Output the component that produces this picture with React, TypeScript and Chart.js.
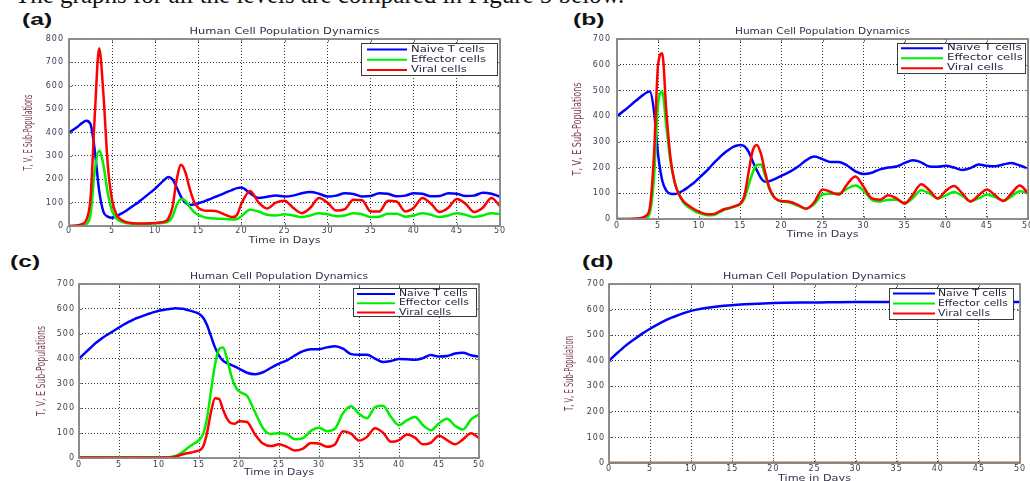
import React, { useEffect, useRef } from 'react';
import { Chart, registerables } from 'chart.js';

Chart.register(...registerables);

// ---------- data ----------
const DAYS = [
  0, 0.5, 1, 1.5, 2, 2.5, 3, 3.5, 4, 4.5,
  5, 5.5, 6, 6.5, 7, 7.5, 8, 8.5, 9, 9.5,
  10, 10.5, 11, 11.5, 12, 12.5, 13, 13.5, 14, 14.5,
  15, 15.5, 16, 16.5, 17, 17.5, 18, 18.5, 19, 19.5,
  20,
  21, 22, 23, 24, 25, 26, 27, 28, 29, 30,
  31, 32, 33, 34, 35, 36, 37, 38, 39, 40,
  41, 42, 43, 44, 45, 46, 47, 48, 49, 50,
];

const A_NAIVE = [
  400, 412, 425, 440, 450, 435, 320, 150, 60, 40,
  35, 42, 52, 62, 75, 88, 100, 115, 130, 145,
  160, 178, 195, 210, 200, 165, 125, 100, 90, 92,
  97, 103, 110, 117, 125, 132, 140, 148, 155, 162,
  165,
  140, 120, 125, 130, 126, 130, 140, 145, 138, 126,
  130, 140, 137, 126, 128, 140, 138, 127, 130, 140,
  138, 127, 128, 140, 138, 128, 130, 142, 138, 125,
];
const A_EFFECTOR = [
  0, 0, 1, 3, 8, 50, 240, 322, 260, 140,
  65, 32, 20, 14, 11, 10, 10, 10, 10, 10,
  11, 12, 14, 18, 40, 90, 115, 108, 82, 60,
  48, 40, 35, 33, 32, 31, 30, 29, 28, 30,
  42,
  70, 62, 48, 45, 50, 45, 38, 45, 55, 50,
  42, 45, 55, 50, 38, 40, 52, 52, 40, 45,
  55, 48, 38, 45, 55, 48, 38, 45, 55, 50,
];
const A_VIRAL = [
  0, 1, 3, 8, 25, 120, 480, 760, 560, 260,
  110, 50, 28, 18, 14, 12, 11, 11, 11, 12,
  13, 15, 18, 30, 80, 200, 262, 230, 160, 105,
  78, 68, 65, 65, 64, 58, 50, 42, 38, 48,
  95,
  150, 100, 75, 100, 108, 78, 55, 78, 120, 100,
  66, 72, 112, 110, 62, 62, 108, 105, 62, 78,
  120, 95, 60, 78, 115, 95, 60, 78, 120, 85,
];

const B_NAIVE = [
  400, 412, 425, 438, 452, 465, 478, 490, 496, 420,
  250, 150, 110, 98, 97, 102, 110, 120, 132, 145,
  160, 175, 190, 208, 225, 240, 255, 267, 278, 285,
  288, 283, 262, 225, 190, 160, 145, 147, 153, 160,
  168,
  183, 203, 228, 243, 233, 222, 222, 208, 185, 175,
  180, 193, 200, 204, 218, 228, 220, 204, 203, 207,
  200, 191, 198, 212, 207, 205, 212, 218, 208, 196,
];
const B_EFFECTOR = [
  0, 0, 0, 0, 0, 1, 2, 5, 25, 160,
  450, 495, 360, 225, 145, 98, 68, 50, 40, 30,
  23, 18, 15, 15, 18, 27, 35, 40, 45, 50,
  58, 80, 130, 180, 210, 212, 170, 118, 88, 74,
  68,
  64, 52, 40, 58, 95, 98, 100, 118, 130, 110,
  75, 68, 75, 75, 62, 82, 112, 100, 80, 92,
  105, 90, 70, 80, 95, 85, 72, 88, 108, 100,
];
const B_VIRAL = [
  0, 0, 0, 0, 1, 2, 5, 12, 45, 250,
  600, 645, 420, 240, 145, 98, 72, 57, 46, 36,
  28, 22, 18, 18, 22, 30, 38, 42, 46, 52,
  60, 90, 180, 265, 288, 255, 185, 125, 90, 75,
  70,
  67, 55, 40, 65, 115, 105, 95, 135, 165, 125,
  80, 75, 92, 80, 60, 95, 135, 112, 80, 110,
  128, 100, 68, 92, 115, 92, 70, 100, 130, 100,
];

const C_NAIVE = [
  400, 415, 430, 445, 460, 473, 485, 495, 505, 515,
  525, 535, 544, 552, 560, 566, 572, 578, 583, 588,
  592, 595, 598, 600, 602, 601, 600, 596, 592, 587,
  580, 565, 535, 490, 445, 412, 392, 382, 375, 368,
  360,
  343, 337, 345, 363, 380, 393, 413, 430, 438, 438,
  445, 450, 440, 418, 415, 415, 400, 386, 390, 398,
  397, 395, 402, 414, 408, 410, 420, 423, 413, 408,
];
const C_EFFECTOR = [
  3, 3, 3, 3, 3, 3, 3, 3, 3, 3,
  3, 3, 3, 3, 3, 3, 3, 3, 3, 3,
  3, 3, 3, 4, 8, 15, 25, 38, 50, 60,
  72, 95, 160, 270, 375, 438, 445, 400, 335, 290,
  268,
  250, 185, 120, 97, 100, 95, 75, 80, 110, 122,
  108, 118, 180, 208, 178, 160, 205, 210, 165, 132,
  152, 165, 132, 112, 140, 158, 130, 115, 155, 175,
];
const C_VIRAL = [
  2, 2, 2, 2, 2, 2, 2, 2, 2, 2,
  2, 2, 2, 2, 2, 2, 2, 2, 2, 2,
  2, 2, 2, 3, 5, 10, 15, 19, 22, 26,
  30, 45, 100, 185, 240, 238, 195, 158, 140, 138,
  148,
  145, 95, 58, 48, 55, 45, 30, 38, 60, 58,
  45, 55, 108, 98, 70, 85, 120, 102, 65, 72,
  95, 82, 55, 62, 90, 72, 55, 75, 100, 80,
];

const DAYS_D = [0, 1, 2, 3, 4, 5, 6, 7, 8, 9, 10, 12, 14, 16, 18, 20, 25, 30, 35, 40, 45, 50];
const D_NAIVE = [400, 430, 458, 482, 505, 525, 543, 560, 573, 585, 595, 607, 615, 620, 623, 626, 628, 630, 630, 630, 630, 630];
const D_EFFECTOR = [0, 0, 0, 0, 0, 0, 0, 0, 0, 0, 0, 0, 0, 0, 0, 0, 0, 0, 0, 0, 0, 0];
const D_VIRAL = [0, 0, 0, 0, 0, 0, 0, 0, 0, 0, 0, 0, 0, 0, 0, 0, 0, 0, 0, 0, 0, 0];

const SERIES_LABELS = ['Naive T cells', 'Effector cells', 'Viral cells'];
const SERIES_COLORS = ['#0000ff', '#00ee00', '#ff0000'];
const CHART_TITLE = 'Human Cell Population Dynamics';
const X_TITLE = 'Time in Days';
const X_TICK_STEP = 5;
const Y_TICK_STEP = 100;
const INTRO = 'The graphs for all the levels are compared in Figure 5 below.';

// ---------- layout ----------
type Rect = { l: number; t: number; r: number; b: number };
interface Legend { l: number; t: number; w: number; h: number; lineX: number; lineLen: number; textX: number; textW: number; rowY: number; rowGap: number }
interface Panel {
  tag: string; tagLeft: number; tagTop: number;
  plot: Rect; yMax: number;
  yTitle: string; yTitleX: number; yTitleLen: number;
  titleY: number; titleWidth: number;
  xTickPad: number; yTickPad: number;
  xTitleY: number; xTitleWidth: number;
  legend: Legend;
  days: number[]; naive: number[]; effector: number[]; viral: number[];
}

const ML = 60, MT = 20, MR = 12, MB = 26;

const PANELS: Panel[] = [
  {
    tag: '(a)', tagLeft: 22, tagTop: 11,
    plot: { l: 69, t: 39, r: 500, b: 226 }, yMax: 800,
    yTitle: 'T, V, E Sub-Populations', yTitleX: 29, yTitleLen: 76,
    titleY: 32, titleWidth: 190, xTickPad: 0, yTickPad: 5,
    xTitleY: 241, xTitleWidth: 72,
    legend: { l: 361, t: 43, w: 136, h: 32, lineX: 367, lineLen: 40, textX: 411, textW: 75, rowY: 49.5, rowGap: 10.3 },
    days: DAYS, naive: A_NAIVE, effector: A_EFFECTOR, viral: A_VIRAL,
  },
  {
    tag: '(b)', tagLeft: 573, tagTop: 11,
    plot: { l: 617, t: 39, r: 1028, b: 219 }, yMax: 700,
    yTitle: 'T, V, E Sub-Populations', yTitleX: 578, yTitleLen: 93,
    titleY: 32, titleWidth: 175, xTickPad: 2, yTickPad: 6,
    xTitleY: 235, xTitleWidth: 72,
    legend: { l: 897, t: 43, w: 128, h: 30, lineX: 901, lineLen: 42, textX: 947, textW: 76, rowY: 48.3, rowGap: 10 },
    days: DAYS, naive: B_NAIVE, effector: B_EFFECTOR, viral: B_VIRAL,
  },
  {
    tag: '(c)', tagLeft: 10, tagTop: 253,
    plot: { l: 79, t: 284, r: 479, b: 458 }, yMax: 700,
    yTitle: 'T, V, E Sub-Populations', yTitleX: 42, yTitleLen: 90,
    titleY: 277, titleWidth: 178, xTickPad: 2, yTickPad: 4,
    xTitleY: 473, xTitleWidth: 70,
    legend: { l: 353, t: 288, w: 123, h: 28, lineX: 357, lineLen: 38, textX: 399, textW: 70, rowY: 294, rowGap: 9.3 },
    days: DAYS, naive: C_NAIVE, effector: C_EFFECTOR, viral: C_VIRAL,
  },
  {
    tag: '(d)', tagLeft: 582, tagTop: 253,
    plot: { l: 609, t: 284, r: 1020, b: 463 }, yMax: 700,
    yTitle: 'T, V, E Sub-Population', yTitleX: 570, yTitleLen: 75,
    titleY: 277, titleWidth: 183, xTickPad: 1, yTickPad: 4,
    xTitleY: 479, xTitleWidth: 73,
    legend: { l: 889, t: 288, w: 124, h: 31, lineX: 893, lineLen: 42, textX: 938, textW: 70, rowY: 293.5, rowGap: 10 },
    days: DAYS_D, naive: D_NAIVE, effector: D_EFFECTOR, viral: D_VIRAL,
  },
];

const FONT = '"DejaVu Sans", "Liberation Sans", sans-serif';

function fitText(ctx: CanvasRenderingContext2D, text: string, cx: number, cy: number, width: number, size: number, color: string, rotate = false) {
  ctx.save();
  ctx.letterSpacing = '0px';
  ctx.font = `${size}px ${FONT}`;
  ctx.fillStyle = color;
  ctx.textAlign = 'center';
  ctx.textBaseline = 'middle';
  const w = ctx.measureText(text).width || 1;
  ctx.translate(cx, cy);
  if (rotate) ctx.rotate(-Math.PI / 2);
  ctx.scale(width / w, 1);
  ctx.fillText(text, 0, 0);
  ctx.restore();
}

function makeDecor(p: Panel, cl: number, ct: number) {
  return {
    id: 'decor' + p.tag.replace(/[()]/g, ''),
    beforeDraw(chart: any) {
      chart.ctx.letterSpacing = '1px';
    },
    afterDraw(chart: any) {
      const ctx: CanvasRenderingContext2D = chart.ctx;
      const ca = chart.chartArea;
      const xs = chart.scales.x;
      const ys = chart.scales.y;
      ctx.save();
      ctx.letterSpacing = '0px';
      ctx.setLineDash([]);
      // inner tick marks
      ctx.strokeStyle = '#7a7a7a';
      ctx.lineWidth = 1;
      ctx.beginPath();
      xs.ticks.forEach((t: any) => {
        const x = Math.round(xs.getPixelForValue(t.value)) + 0.5;
        ctx.moveTo(x, ca.bottom); ctx.lineTo(x, ca.bottom - 3);
        ctx.moveTo(x, ca.top); ctx.lineTo(x, ca.top + 3);
      });
      ys.ticks.forEach((t: any) => {
        const y = Math.round(ys.getPixelForValue(t.value)) + 0.5;
        ctx.moveTo(ca.left, y); ctx.lineTo(ca.left + 3, y);
        ctx.moveTo(ca.right, y); ctx.lineTo(ca.right - 3, y);
      });
      ctx.stroke();
      // axes box
      ctx.lineWidth = 1.8;
      ctx.strokeStyle = '#858585';
      ctx.strokeRect(ca.left, ca.top, ca.right - ca.left, ca.bottom - ca.top);
      // titles
      const cx = (ca.left + ca.right) / 2;
      fitText(ctx, CHART_TITLE, cx, p.titleY - ct, p.titleWidth, 8.5, '#2e2e48');
      fitText(ctx, X_TITLE, cx, p.xTitleY - ct, p.xTitleWidth, 8.5, '#34344c');
      fitText(ctx, p.yTitle, p.yTitleX - cl, (ca.top + ca.bottom) / 2, p.yTitleLen, 11.5, '#7b3f4a', true);
      // legend
      const lg = p.legend;
      ctx.fillStyle = '#ffffff';
      ctx.fillRect(lg.l - cl, lg.t - ct, lg.w, lg.h);
      ctx.strokeStyle = '#3a3a3a';
      ctx.lineWidth = 1;
      ctx.strokeRect(Math.round(lg.l - cl) + 0.5, Math.round(lg.t - ct) + 0.5, lg.w, lg.h);
      const ds = chart.data.datasets;
      ctx.font = `8px ${FONT}`;
      let maxW = 1;
      ds.forEach((d: any) => { maxW = Math.max(maxW, ctx.measureText(d.label).width); });
      const s = lg.textW / maxW;
      ds.forEach((d: any, i: number) => {
        const y = lg.rowY - ct + i * lg.rowGap;
        ctx.strokeStyle = d.borderColor;
        ctx.lineWidth = 2;
        ctx.beginPath();
        ctx.moveTo(lg.lineX - cl, y);
        ctx.lineTo(lg.lineX - cl + lg.lineLen, y);
        ctx.stroke();
        ctx.save();
        ctx.fillStyle = '#1e1e3a';
        ctx.textAlign = 'left';
        ctx.textBaseline = 'middle';
        ctx.translate(lg.textX - cl, y);
        ctx.scale(s, 1);
        ctx.fillText(d.label, 0, 0);
        ctx.restore();
      });
      ctx.restore();
    },
  };
}

function PanelChart({ p }: { p: Panel }) {
  const ref = useRef<HTMLCanvasElement>(null);
  const cl = p.plot.l - ML;
  const ct = p.plot.t - MT;
  const cw = p.plot.r - p.plot.l + ML + MR;
  const ch = p.plot.b - p.plot.t + MT + MB;

  useEffect(() => {
    if (!ref.current) return;
    const seriesVals = [p.naive, p.effector, p.viral];
    const datasets = seriesVals.map((vals, i) => ({
      label: SERIES_LABELS[i],
      data: p.days.map((d, k) => ({ x: d, y: vals[k] })),
      borderColor: SERIES_COLORS[i],
      backgroundColor: SERIES_COLORS[i],
      borderWidth: 2.5,
      pointRadius: 0,
      fill: false,
      cubicInterpolationMode: 'monotone' as const,
      order: 2 - i,
    }));
    const grid = {
      color: 'rgba(20,20,20,0.85)',
      lineWidth: 1,
      drawTicks: false,
    };
    const chart = new Chart(ref.current, {
      type: 'line',
      data: { datasets },
      plugins: [makeDecor(p, cl, ct)],
      options: {
        responsive: false,
        animation: false,
        devicePixelRatio: 1,
        events: [],
        layout: { padding: { left: 0, top: MT, right: MR, bottom: 0 } },
        plugins: { legend: { display: false }, title: { display: false }, tooltip: { enabled: false } },
        scales: {
          x: {
            type: 'linear',
            min: 0,
            max: 50,
            grid,
            border: { display: false, dash: [1, 2] },
            ticks: {
              stepSize: X_TICK_STEP,
              maxRotation: 0,
              autoSkip: false,
              padding: p.xTickPad,
              color: '#3c3c50',
              font: { family: FONT, size: 8 },
            },
            afterFit: (scale: any) => { scale.height = MB; },
          },
          y: {
            type: 'linear',
            min: 0,
            max: p.yMax,
            grid,
            border: { display: false, dash: [1, 2] },
            ticks: {
              stepSize: Y_TICK_STEP,
              padding: p.yTickPad,
              color: '#3c3c50',
              font: { family: FONT, size: 8 },
            },
            afterFit: (scale: any) => { scale.width = ML; },
          },
        },
      },
    } as any);
    return () => chart.destroy();
  }, [p]);

  return (
    <canvas
      ref={ref}
      width={cw}
      height={ch}
      style={{ position: 'absolute', left: cl, top: ct, width: cw, height: ch, display: 'block' }}
    />
  );
}

export default function App() {
  return (
    <div style={{ position: 'fixed', left: 0, top: 0, width: 1030, height: 481, overflow: 'hidden', background: '#ffffff' }}>
      <div
        style={{
          position: 'absolute', left: 15, top: -18, whiteSpace: 'nowrap',
          fontFamily: '"Liberation Serif", "DejaVu Serif", serif', fontSize: 25, lineHeight: '25px', color: '#111',
        }}
      >
        {INTRO}
      </div>
      {PANELS.map((p) => (
        <div
          key={'tag' + p.tag}
          style={{
            position: 'absolute', left: p.tagLeft, top: p.tagTop, whiteSpace: 'nowrap',
            fontFamily: '"Liberation Sans", Arial, sans-serif', fontWeight: 'bold', fontSize: 17, lineHeight: '17px',
            color: '#111', transform: 'scaleX(1.45)', transformOrigin: 'left top',
          }}
        >
          {p.tag}
        </div>
      ))}
      {PANELS.map((p) => (
        <PanelChart key={p.tag} p={p} />
      ))}
    </div>
  );
}
